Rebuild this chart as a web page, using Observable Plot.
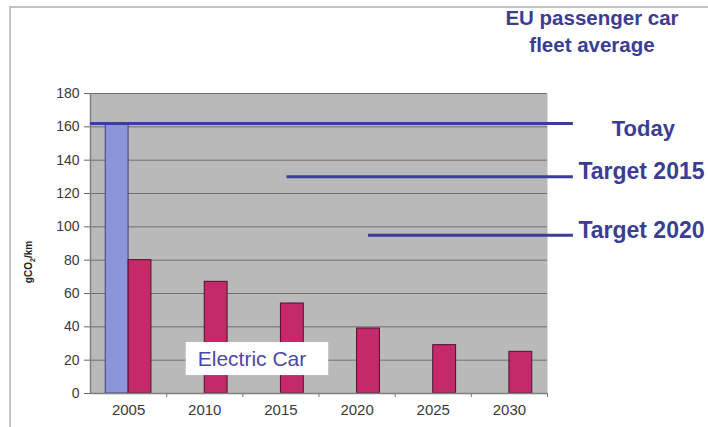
<!DOCTYPE html>
<html>
<head>
<meta charset="utf-8">
<script src="https://cdn.jsdelivr.net/npm/d3@7"></script>
<script src="https://cdn.jsdelivr.net/npm/@observablehq/plot@0.6"></script>
<style>
  html, body { margin: 0; padding: 0; background: #fff; }
  #wrap { position: relative; width: 708px; height: 427px; overflow: hidden; background: #fff;
          font-family: "Liberation Sans", Arial, sans-serif; }
  #frameL { position: absolute; left: 9px; top: 6px; width: 2px; height: 421px; background: #c4c4c4; }
  #frameT { position: absolute; left: 9px; top: 6px; width: 699px; height: 2px; background: #c4c4c4; }
  #title { position: absolute; left: 490px; width: 204px; top: 4px; text-align: center;
           font-weight: bold; font-size: 20.5px; line-height: 27px; color: #3b3d94; }
  #ylabel { position: absolute; left: 29px; top: 262px; transform: translate(-50%, -50%) rotate(-90deg);
            font-weight: bold; font-size: 10px; color: #222; white-space: nowrap; }
  #chart { position: absolute; left: 0; top: 0; }
</style>
</head>
<body>
<div id="wrap">
  <div id="frameL"></div>
  <div id="frameT"></div>
  <div id="chart"></div>
  <div id="title">EU passenger car<br>fleet average</div>
  <div id="ylabel">gCO<sub style="font-size:7px">2</sub>/km</div>
</div>
<script>
// Categories (years)
const years = [2005, 2010, 2015, 2020, 2025, 2030];
// Series: fleet average (blue) only in 2005; electric car (red) every year
const fleetValues = [162];
const fleetYears = [2005];
const electricValues = [80, 67, 54, 39, 29, 25];
// Reference lines: label, value, start year, end year
const refLabels = ["Today", "Target 2015", "Target 2020"];
const refValues = [162, 130, 95];
const refStart = [2002.5, 2015.4, 2020.75];
const refEnd = [2034.2, 2034.2, 2034.2];
// Y ticks
const yTicks = [0, 20, 40, 60, 80, 100, 120, 140, 160, 180];
// Annotation
const annoLabel = ["Electric Car"];
const annoYear = [2013.1];
const annoValue = [20.5];

const half = 2.5;     // half of a category band in years
const barW = 1.5;     // bar width in years

const fleet = fleetYears.map((y, i) => ({year: y, value: fleetValues[i]}));
const electric = years.map((y, i) => ({year: y, value: electricValues[i]}));
const refs = refLabels.map((l, i) => ({label: l, value: refValues[i], x1: refStart[i], x2: refEnd[i]}));
const anno = annoLabel.map((l, i) => ({label: l, year: annoYear[i], value: annoValue[i]}));
const boundaries = d3.range(years.length + 1).map(i => years[0] - half + i * 5);

const lineColor = "#3a3d9c";
const labelColor = "#3b3d94";
const tickColor = "#3a3a3a";

const plot = Plot.plot({
  width: 708,
  height: 427,
  marginLeft: 90,
  marginRight: 161,
  marginTop: 93,
  marginBottom: 34,
  style: {fontFamily: "Liberation Sans, Arial, sans-serif", background: "transparent", overflow: "visible"},
  x: {type: "linear", domain: [years[0] - half, years[years.length - 1] + half], axis: null},
  y: {type: "linear", domain: [0, 180], axis: null},
  marks: [
    Plot.frame({fill: "#b9b9b9", stroke: null}),
    Plot.gridY(yTicks, {stroke: "#6f6f6f", strokeOpacity: 1, strokeWidth: 1}),
    Plot.rectY(fleet, {x1: d => d.year - barW, x2: d => d.year, y1: 0, y2: "value",
      fill: "#8c95da", stroke: "#3c3f80", strokeWidth: 1}),
    Plot.rectY(electric, {x1: "year", x2: d => d.year + barW, y1: 0, y2: "value",
      fill: "#c42a6a", stroke: "#4e0f2a", strokeWidth: 1}),
    Plot.ruleX([boundaries[0]], {stroke: "#808080", strokeWidth: 1.5}),
    Plot.ruleY([0], {stroke: "#808080", strokeWidth: 1.5}),
    Plot.ruleX(boundaries.slice(1), {x: d => d, y1: 0, y2: 0, insetBottom: -4, stroke: "#777", strokeWidth: 1}),
    Plot.axisY(yTicks, {tickSize: 6, stroke: "#666", tickFormat: () => "", label: null}),
    Plot.text(yTicks, {y: d => d, text: d => String(d), frameAnchor: "left", dx: -11, textAnchor: "end", fontSize: 14, fill: tickColor}),
    Plot.text(years, {x: d => d, text: d => String(d), frameAnchor: "bottom", dy: 21, fontSize: 15, fill: tickColor}),
    Plot.ruleY(refs, {y: "value", x1: "x1", x2: "x2", stroke: lineColor, strokeWidth: 3}),
    Plot.text(refs.filter(d => d.label === "Today"), {x: "x2", y: "value", text: "label", dx: 70, dy: 5,
      textAnchor: "middle", fontSize: 22, fontWeight: "bold", fill: labelColor}),
    Plot.text(refs.filter(d => d.label !== "Today"), {x: "x2", y: "value", text: "label", dx: 5, dy: -5,
      textAnchor: "start", fontSize: 23, fontWeight: "bold", fill: labelColor}),
    Plot.text(anno, {x: "year", y: "value", text: "label", fontSize: 21, fill: "#4a4aa6"})
  ]
});
document.getElementById("chart").appendChild(plot);

// white box behind the "Electric Car" annotation
plot.querySelectorAll("text").forEach(t => {
  if (!annoLabel.includes(t.textContent)) return;
  const b = t.getBBox();
  const r = document.createElementNS("http://www.w3.org/2000/svg", "rect");
  r.setAttribute("x", b.x - 12);
  r.setAttribute("y", b.y - 5);
  r.setAttribute("width", b.width + 34);
  r.setAttribute("height", b.height + 10);
  r.setAttribute("fill", "#fff");
  const tr = t.getAttribute("transform");
  if (tr) r.setAttribute("transform", tr);
  t.parentNode.insertBefore(r, t);
});
</script>
</body>
</html>
